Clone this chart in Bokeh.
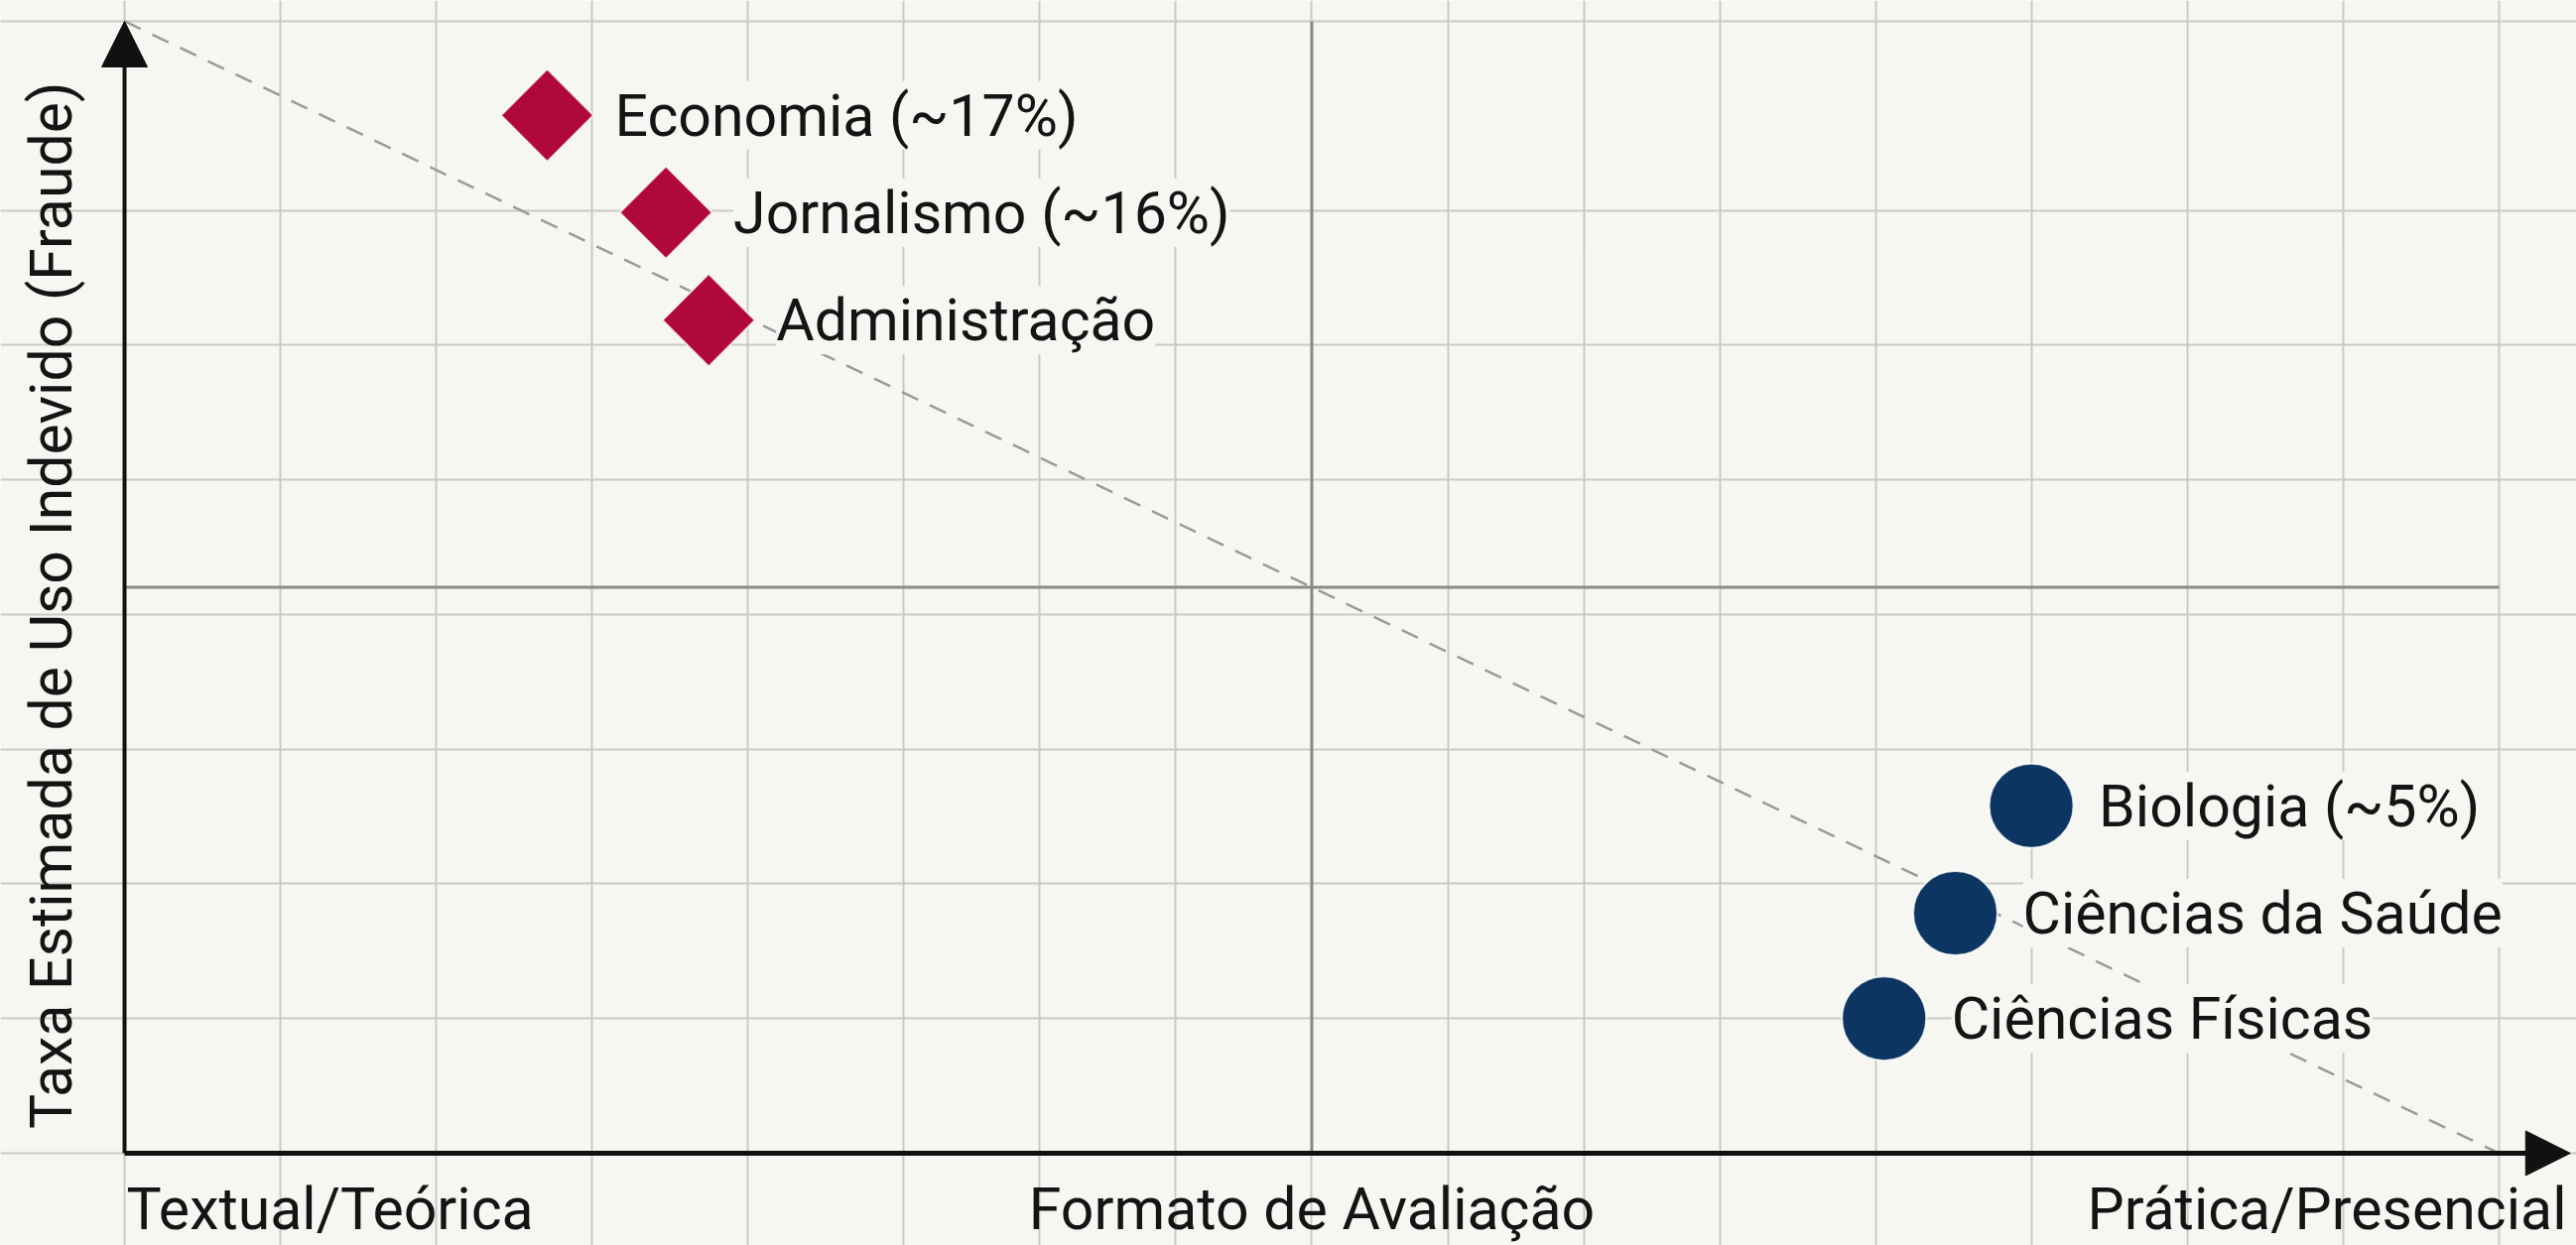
import math
from bokeh.plotting import figure
from bokeh.models import ColumnDataSource, Range1d, FixedTicker, Arrow, NormalHead, Grid
from bokeh.core.properties import value
from bokeh.embed import file_html
from bokeh.resources import INLINE

# ---------------- data ----------------
high_names = ["Economia (~17%)", "Jornalismo (~16%)", "Administração"]
high_x = [17.8, 22.8, 24.6]          # formato de avaliação (0 = textual, 100 = prática)
high_y = [91.7, 83.1, 73.6]          # taxa estimada de uso indevido (escala relativa)

low_names = ["Biologia (~5%)", "Ciências da Saúde", "Ciências Físicas"]
low_x = [80.3, 77.1, 74.1]
low_y = [30.7, 21.2, 11.9]

trend_x = [0, 100]
trend_y = [100, 0]

x_label_left = "Textual/Teórica"
x_label_mid = "Formato de Avaliação"
x_label_right = "Prática/Presencial"
y_label = "Taxa Estimada de Uso Indevido (Fraude)"

# grid (style)
grid_x = [0, 6.56, 13.13, 19.69, 26.25, 32.81, 38.54, 44.27, 50,
          55.73, 61.46, 67.19, 73.75, 80.31, 86.88, 93.44, 100]
grid_y = [0, 11.9, 23.8, 35.7, 47.6, 59.5, 71.4, 83.3, 100]

BG = "#f6f6f2"
FONT = value("Roboto")
FS = "59px"
CRIMSON = "#b0083a"
NAVY = "#0d3561"
INK = "#141414"

W, H = 2596, 1255
p = figure(width=W, height=H, output_backend="svg", toolbar_location=None,
           x_range=Range1d(-5.224, 103.26), y_range=Range1d(-8.151, 101.84),
           x_axis_type=None, y_axis_type=None,
           min_border=0, min_border_left=0, min_border_right=0,
           min_border_top=0, min_border_bottom=0)
p.background_fill_color = BG
p.border_fill_color = BG
p.outline_line_color = None

p.add_layout(Grid(dimension=0, ticker=FixedTicker(ticks=grid_x), bounds=(0, 100),
                  grid_line_color="#c9c9c6", grid_line_width=2))
p.add_layout(Grid(dimension=1, ticker=FixedTicker(ticks=grid_y), bounds=(0, 100),
                  grid_line_color="#c9c9c6", grid_line_width=2))

# centre (quadrant) lines
p.segment(x0=[50, 0], y0=[0, 50], x1=[50, 100], y1=[100, 50],
          line_color="#8a8a88", line_width=3)

# trend line
p.line(trend_x, trend_y, line_color="#9a9a9a", line_width=2.5, line_dash="18 13")

# axes with arrows
p.add_layout(Arrow(x_start=0, y_start=0, x_end=0, y_end=100,
                   line_color="#111111", line_width=4,
                   end=NormalHead(size=46, fill_color="#111111", line_color="#111111")))
p.add_layout(Arrow(x_start=0, y_start=0, x_end=103.0, y_end=0,
                   line_color="#111111", line_width=5,
                   end=NormalHead(size=45, fill_color="#111111", line_color="#111111")))

# markers
hi = ColumnDataSource(dict(x=high_x, y=high_y, name=high_names))
lo = ColumnDataSource(dict(x=low_x, y=low_y, name=low_names))

p.scatter("x", "y", source=hi, marker="square", size=66, angle=math.pi / 4,
          fill_color=CRIMSON, line_color="#ffffff", line_width=2, line_alpha=0.8)
p.scatter("x", "y", source=lo, marker="circle", size=85,
          fill_color=NAVY, line_color="#ffffff", line_width=2, line_alpha=0.8)

for src in (hi, lo):
    p.text("x", "y", text="name", source=src, x_offset=68,
           text_font=FONT, text_font_size=FS, text_color=INK,
           text_align="left", text_baseline="middle",
           background_fill_color=BG, background_fill_alpha=1.0)

# axis texts
BOTTOM_OFF = 56
p.text(x=[0], y=[0], text=[x_label_left], x_offset=2, y_offset=BOTTOM_OFF,
       text_font=FONT, text_font_size=FS, text_color=INK,
       text_align="left", text_baseline="middle")
p.text(x=[50], y=[0], text=[x_label_mid], y_offset=BOTTOM_OFF,
       text_font=FONT, text_font_size=FS, text_color=INK,
       text_align="center", text_baseline="middle")
p.text(x=[100], y=[0], text=[x_label_right], x_offset=68, y_offset=BOTTOM_OFF,
       text_font=FONT, text_font_size=FS, text_color=INK,
       text_align="right", text_baseline="middle")
p.text(x=[0], y=[48.4], text=[y_label], x_offset=-74, angle=math.pi / 2,
       text_font=FONT, text_font_size=FS, text_color=INK,
       text_align="center", text_baseline="middle")

html = file_html(p, INLINE)
html = html.replace("<body", '<body style="background-color:%s;"' % BG, 1)
open("out.html", "w").write(html)
